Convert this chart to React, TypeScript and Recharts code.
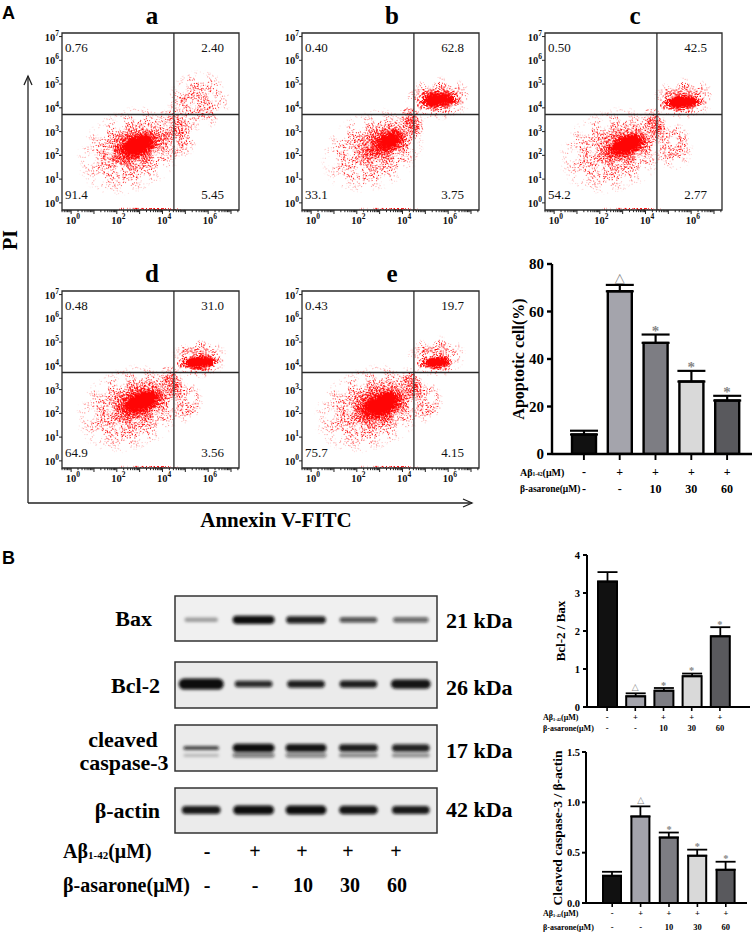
import React from 'react';
import {
  ScatterChart, Scatter, XAxis, YAxis, ReferenceArea, ReferenceLine,
  ComposedChart, Bar, Cell, ErrorBar, Line,
} from 'recharts';

const SERIF = "'Liberation Serif', 'Times New Roman', 'DejaVu Serif', serif";
const SANS = "'Liberation Sans', Arial, sans-serif";

// ---------------- Flow cytometry (decade units, log10) ----------------
const FLOW_X_DOMAIN: [number, number] = [-0.4, 7.35];
const FLOW_Y_DOMAIN: [number, number] = [-0.3, 7.15];
const FLOW_QUAD_X = 4.5;
const FLOW_QUAD_Y = 3.72;
const FLOW_DECADES = [0, 1, 2, 3, 4, 5, 6, 7];
const FLOW_X_LABELLED = [0, 2, 4, 6];

// quadrant percentages: upper-left, upper-right, lower-left, lower-right
const quadA = ['0.76', '2.40', '91.4', '5.45'];
const quadB = ['0.40', '62.8', '33.1', '3.75'];
const quadC = ['0.50', '42.5', '54.2', '2.77'];
const quadD = ['0.48', '31.0', '64.9', '3.56'];
const quadE = ['0.43', '19.7', '75.7', '4.15'];

// event clouds: centre (x,y), half extents (rx,ry) in decades, tilt (deg), density
type Cluster = { x: number; y: number; rx: number; ry: number; a: number; d: number };
const clustersA: Cluster[] = [
  { x: 2.6, y: 2.2, rx: 2.5, ry: 1.8, a: -25, d: 0.28 },
  { x: 2.8, y: 2.35, rx: 1.6, ry: 0.95, a: -22, d: 0.55 },
  { x: 2.9, y: 2.4, rx: 1.0, ry: 0.55, a: -20, d: 1.0 },
  { x: 4.6, y: 3.0, rx: 0.9, ry: 1.2, a: -20, d: 0.33 },
  { x: 5.6, y: 4.3, rx: 1.4, ry: 1.3, a: -30, d: 0.26 },
  { x: 3.4, y: -0.26, rx: 1.8, ry: 0.05, a: 0.5, d: 0.5 },
];
const clustersB: Cluster[] = [
  { x: 2.7, y: 2.2, rx: 2.4, ry: 1.7, a: -25, d: 0.27 },
  { x: 3.2, y: 2.5, rx: 1.5, ry: 0.9, a: -25, d: 0.5 },
  { x: 3.4, y: 2.6, rx: 0.9, ry: 0.5, a: -25, d: 0.85 },
  { x: 4.4, y: 3.4, rx: 0.5, ry: 0.8, a: -20, d: 0.45 },
  { x: 5.6, y: 4.4, rx: 1.5, ry: 0.95, a: -4, d: 0.3 },
  { x: 5.6, y: 4.35, rx: 1.15, ry: 0.5, a: -4, d: 0.75 },
  { x: 5.5, y: 4.35, rx: 0.85, ry: 0.33, a: -4, d: 1.0 },
  { x: 3.4, y: -0.26, rx: 1.6, ry: 0.05, a: 0.5, d: 0.45 },
];
const clustersC: Cluster[] = [
  { x: 2.6, y: 2.2, rx: 2.5, ry: 1.8, a: -20, d: 0.28 },
  { x: 3.1, y: 2.4, rx: 1.5, ry: 0.85, a: -20, d: 0.55 },
  { x: 3.2, y: 2.45, rx: 0.95, ry: 0.5, a: -20, d: 1.0 },
  { x: 4.4, y: 3.3, rx: 0.5, ry: 0.8, a: -20, d: 0.42 },
  { x: 5.2, y: 2.4, rx: 0.9, ry: 1.1, a: -10, d: 0.24 },
  { x: 5.7, y: 4.4, rx: 1.4, ry: 0.9, a: -4, d: 0.3 },
  { x: 5.6, y: 4.25, rx: 1.1, ry: 0.45, a: -4, d: 0.75 },
  { x: 5.55, y: 4.25, rx: 0.8, ry: 0.3, a: -4, d: 1.0 },
  { x: 3.4, y: -0.26, rx: 1.6, ry: 0.05, a: 0.5, d: 0.45 },
];
const clustersD: Cluster[] = [
  { x: 2.6, y: 2.2, rx: 2.5, ry: 1.8, a: -22, d: 0.3 },
  { x: 3.0, y: 2.45, rx: 1.6, ry: 0.9, a: -22, d: 0.6 },
  { x: 3.1, y: 2.5, rx: 1.0, ry: 0.5, a: -22, d: 1.0 },
  { x: 4.4, y: 3.3, rx: 0.5, ry: 0.8, a: -20, d: 0.42 },
  { x: 5.0, y: 2.5, rx: 0.8, ry: 1.0, a: -10, d: 0.24 },
  { x: 5.6, y: 4.3, rx: 1.3, ry: 0.85, a: -4, d: 0.3 },
  { x: 5.6, y: 4.15, rx: 1.05, ry: 0.42, a: -4, d: 0.75 },
  { x: 5.55, y: 4.15, rx: 0.75, ry: 0.28, a: -4, d: 1.0 },
  { x: 3.4, y: -0.26, rx: 1.6, ry: 0.05, a: 0.5, d: 0.45 },
];
const clustersE: Cluster[] = [
  { x: 2.6, y: 2.2, rx: 2.6, ry: 1.8, a: -22, d: 0.3 },
  { x: 3.0, y: 2.35, rx: 1.6, ry: 0.95, a: -22, d: 0.65 },
  { x: 3.1, y: 2.35, rx: 1.05, ry: 0.55, a: -22, d: 1.0 },
  { x: 4.4, y: 3.2, rx: 0.5, ry: 0.8, a: -20, d: 0.42 },
  { x: 5.0, y: 2.5, rx: 0.8, ry: 1.0, a: -10, d: 0.24 },
  { x: 5.5, y: 4.4, rx: 1.3, ry: 0.9, a: -4, d: 0.28 },
  { x: 5.5, y: 4.15, rx: 0.95, ry: 0.38, a: -4, d: 0.7 },
  { x: 5.5, y: 4.15, rx: 0.7, ry: 0.25, a: -4, d: 0.95 },
  { x: 3.4, y: -0.26, rx: 1.6, ry: 0.05, a: 0.5, d: 0.45 },
];

const FLOW_BOX = 177;
const FLOW_PANELS = [
  { title: 'a', left: 62, top: 33, quads: quadA, clusters: clustersA },
  { title: 'b', left: 302, top: 33, quads: quadB, clusters: clustersB },
  { title: 'c', left: 545, top: 33, quads: quadC, clusters: clustersC },
  { title: 'd', left: 62, top: 291, quads: quadD, clusters: clustersD },
  { title: 'e', left: 302, top: 291, quads: quadE, clusters: clustersE },
];

// ---------------- Bar charts ----------------
const GROUPS = ['ctrl', 'ab', 'ab10', 'ab30', 'ab60'];
const AB_ROW = ['-', '+', '+', '+', '+'];
const ASA_ROW = ['-', '-', '10', '30', '60'];
const MARKS = ['', '△', '*', '*', '*'];
const BAR_COLORS = ['#111111', '#a4a4ac', '#7d7d83', '#d9d9d9', '#59595d'];

const apoptoticMean = [8.2, 68.5, 46.8, 30.5, 22.5];
const apoptoticErr = [1.6, 2.7, 3.5, 4.5, 2.0];
const apoptoticTicks = [0, 20, 40, 60, 80];

const bclBaxMean = [3.3, 0.28, 0.43, 0.81, 1.86];
const bclBaxErr = [0.25, 0.08, 0.07, 0.07, 0.24];
const bclBaxTicks = [0, 1, 2, 3, 4];

const caspMean = [0.27, 0.86, 0.65, 0.47, 0.33];
const caspErr = [0.04, 0.1, 0.05, 0.06, 0.08];
const caspTicks = [0, 0.5, 1.0, 1.5];

// ---------------- Western blots (relative band strength per lane) ----------------
const LANES = [1, 2, 3, 4, 5];
const baxBand = [0.35, 1.0, 0.92, 0.72, 0.62];
const baxThick = [0.05, 0.09, 0.08, 0.06, 0.06];
const baxHalf = [0.32, 0.4, 0.38, 0.36, 0.34];
const bcl2Band = [1.0, 0.88, 0.93, 0.93, 0.97];
const bcl2Thick = [0.12, 0.07, 0.08, 0.08, 0.1];
const bcl2Half = [0.43, 0.36, 0.36, 0.36, 0.38];
const caspBand = [0.85, 1.0, 0.97, 0.93, 0.9];
const caspThick = [0.04, 0.09, 0.085, 0.08, 0.08];
const caspHalf = [0.34, 0.4, 0.39, 0.37, 0.36];
const caspLower = [0.22, 0.55, 0.5, 0.45, 0.42];
const caspLowerThick = [0.035, 0.045, 0.045, 0.04, 0.04];
const actinBand = [0.95, 1.0, 1.0, 0.97, 0.95];
const actinThick = [0.09, 0.1, 0.1, 0.095, 0.09];
const actinHalf = [0.37, 0.39, 0.39, 0.37, 0.36];

const BLOT_NAMES = ['Bax', 'Bcl-2', 'cleaved caspase-3', 'β-actin'];
const BLOT_KDA = ['21 kDa', '26 kDa', '17 kDa', '42 kDa'];
const BLOT_AB_ROW = ['-', '+', '+', '+', '+'];
const BLOT_ASA_ROW = ['-', '-', '10', '30', '60'];

// ======================================================================

const ClusterShape = (p: any) => {
  const { x, y, width, height, clipPath, angle, density } = p;
  if (![x, y, width, height].every((v: any) => Number.isFinite(v))) return <g />;
  const cx = x + width / 2;
  const cy = y + height / 2;
  return (
    <g clipPath={clipPath}>
      <ellipse
        cx={cx}
        cy={cy}
        rx={Math.abs(width) / 2}
        ry={Math.abs(height) / 2}
        fill="url(#flowGrad)"
        fillOpacity={density}
        filter="url(#speckle)"
        transform={`rotate(${angle} ${cx} ${cy})`}
      />
    </g>
  );
};

const FLOW_X_TICKS: number[] = (() => {
  const out: number[] = [];
  for (let d = -1; d <= 7; d++) {
    for (let k = 1; k <= 9; k++) {
      const v = d + Math.log10(k);
      if (v >= FLOW_X_DOMAIN[0] && v <= FLOW_X_DOMAIN[1]) out.push(Number(v.toFixed(4)));
    }
  }
  return out;
})();

const FlowXTick = (props: any) => {
  const { x, y, payload } = props;
  const v = payload.value;
  const major = Math.abs(v - Math.round(v)) < 1e-6;
  const labelled = major && FLOW_X_LABELLED.includes(Math.round(v));
  return (
    <g>
      <line x1={x} x2={x} y1={y} y2={y + (major ? 4 : 2.2)} stroke="#222" strokeWidth={1} />
      {labelled && (
        <text x={x - 5.5} y={y + 14} fontFamily={SERIF} fontWeight="bold" fontSize={10.5} fill="#111">
          10<tspan dy={-5} fontSize={7.5}>{Math.round(v)}</tspan>
        </text>
      )}
    </g>
  );
};

const FlowYTick = (props: any) => {
  const { x, y, payload } = props;
  const v = Math.round(payload.value);
  return (
    <g>
      <line x1={x} x2={x - 3} y1={y} y2={y} stroke="#222" strokeWidth={1} />
      <text x={x - 3} y={y + 4} textAnchor="end" fontFamily={SERIF} fontWeight="bold" fontSize={10.5} fill="#111">
        10<tspan dy={-5} fontSize={7.5}>{v}</tspan>
      </text>
    </g>
  );
};

function FlowPanel({ left, top, clusters }: { left: number; top: number; clusters: Cluster[] }) {
  return (
    <div style={{ position: 'absolute', left: left - 30, top: top - 10 }}>
      <ScatterChart width={FLOW_BOX + 40} height={FLOW_BOX + 30} margin={{ top: 10, right: 10, bottom: 0, left: 0 }}>
        <XAxis
          type="number" dataKey="x" domain={FLOW_X_DOMAIN} ticks={FLOW_X_TICKS} interval={0}
          allowDataOverflow tick={<FlowXTick />} tickLine={false} axisLine={false}
          tickSize={0} tickMargin={0} height={20}
        />
        <YAxis
          type="number" dataKey="y" domain={FLOW_Y_DOMAIN} ticks={FLOW_DECADES} interval={0}
          allowDataOverflow tick={<FlowYTick />} tickLine={false} axisLine={false}
          tickSize={0} tickMargin={0} width={30}
        />
        <Scatter data={[]} isAnimationActive={false} />
        {clusters.map((c, i) => (
          <ReferenceArea
            key={i}
            x1={c.x - c.rx} x2={c.x + c.rx} y1={c.y - c.ry} y2={c.y + c.ry}
            ifOverflow="hidden"
            shape={(p: any) => <ClusterShape {...p} angle={c.a} density={c.d} />}
          />
        ))}
        <ReferenceLine x={FLOW_QUAD_X} stroke="#2a2a2a" strokeWidth={1.3} />
        <ReferenceLine y={FLOW_QUAD_Y} stroke="#2a2a2a" strokeWidth={1.3} />
        <ReferenceArea
          x1={FLOW_X_DOMAIN[0]} x2={FLOW_X_DOMAIN[1]} y1={FLOW_Y_DOMAIN[0]} y2={FLOW_Y_DOMAIN[1]}
          fill="none" fillOpacity={0} stroke="#2a2a2a" strokeWidth={1.3} ifOverflow="visible"
        />
      </ScatterChart>
    </div>
  );
}

// ---------------- Bar chart ----------------
type StatCfg = {
  left: number; top: number; width: number; height: number;
  yWidth: number; xHeight: number; marginTop: number; marginRight: number;
  domain: [number, number]; ticks: number[]; fmt: (v: number) => string;
  padL: number; padR: number; barSize: number; cap: number;
  tickFont: number; tickSize: number; tickMargin: number;
  rowFont: number; r1: number; r2: number; tickLen: number;
  markFont: number; strokeW: number;
};

function StatChart({ cfg, mean, err }: { cfg: StatCfg; mean: number[]; err: number[] }) {
  const data = GROUPS.map((g, i) => ({
    g, v: mean[i], e: [0, err[i]], mk: mean[i] + err[i], mark: MARKS[i],
  }));
  const RowTick = (props: any) => {
    const { x, y, payload } = props;
    const i = GROUPS.indexOf(payload.value);
    return (
      <g>
        <line x1={x} x2={x} y1={y} y2={y + cfg.tickLen} stroke="#000" strokeWidth={cfg.strokeW * 0.8} />
        <text x={x} y={y + cfg.r1} textAnchor="middle" dominantBaseline="central" fontFamily={SERIF} fontWeight="bold" fontSize={cfg.rowFont} fill="#000">{AB_ROW[i]}</text>
        <text x={x} y={y + cfg.r2} textAnchor="middle" dominantBaseline="central" fontFamily={SERIF} fontWeight="bold" fontSize={cfg.rowFont} fill="#000">{ASA_ROW[i]}</text>
      </g>
    );
  };
  const MarkDot = (props: any) => {
    const { cx, cy, payload, index } = props;
    if (!payload || !payload.mark || !Number.isFinite(cx)) return <g key={`m${index}`} />;
    const tri = payload.mark === '△';
    return (
      <text
        key={`m${index}`}
        x={cx}
        y={tri ? cy - 3 : cy + cfg.markFont * 0.08}
        textAnchor="middle"
        fontFamily={tri ? "'DejaVu Sans', sans-serif" : SERIF}
        fontSize={tri ? cfg.markFont * 1.0 : cfg.markFont * 1.15}
        fontWeight={tri ? 'normal' : 'bold'}
        fill="#858585"
      >
        {payload.mark}
      </text>
    );
  };
  return (
    <div style={{ position: 'absolute', left: cfg.left, top: cfg.top }}>
      <ComposedChart
        width={cfg.width} height={cfg.height} data={data}
        margin={{ top: cfg.marginTop, right: cfg.marginRight, bottom: 0, left: 0 }}
      >
        <XAxis
          dataKey="g" type="category" interval={0} padding={{ left: cfg.padL, right: cfg.padR }}
          axisLine={{ stroke: '#000', strokeWidth: cfg.strokeW }} tickLine={false}
          tickSize={0} tickMargin={0} tick={<RowTick />} height={cfg.xHeight}
        />
        <YAxis
          type="number" domain={cfg.domain} ticks={cfg.ticks} interval={0} allowDataOverflow
          tickFormatter={cfg.fmt} width={cfg.yWidth}
          axisLine={{ stroke: '#000', strokeWidth: cfg.strokeW }}
          tickLine={{ stroke: '#000', strokeWidth: cfg.strokeW }} tickSize={cfg.tickSize} tickMargin={cfg.tickMargin}
          tick={{ fontFamily: SERIF, fontWeight: 'bold', fontSize: cfg.tickFont, fill: '#000' }}
        />
        <Bar dataKey="v" barSize={cfg.barSize} stroke="#000" strokeWidth={cfg.strokeW} isAnimationActive={false}>
          {data.map((d, i) => <Cell key={d.g} fill={BAR_COLORS[i]} />)}
          <ErrorBar dataKey="e" width={cfg.cap} stroke="#000" strokeWidth={cfg.strokeW * 0.9} direction="y" />
        </Bar>
        <Line dataKey="mk" stroke="none" dot={MarkDot} activeDot={false} isAnimationActive={false} legendType="none" />
      </ComposedChart>
    </div>
  );
}

const APOP_CFG: StatCfg = {
  left: 490, top: 254, width: 264, height: 250, yWidth: 62, xHeight: 50, marginTop: 10, marginRight: 2,
  domain: [0, 80], ticks: apoptoticTicks, fmt: (v) => String(v),
  padL: 14, padR: 7, barSize: 24, cap: 14, tickFont: 15, tickSize: 5, tickMargin: 3,
  rowFont: 12, r1: 18, r2: 35, tickLen: 6, markFont: 13, strokeW: 2.4,
};
const BCL_CFG: StatCfg = {
  left: 530, top: 545, width: 224, height: 192, yWidth: 57, xHeight: 30, marginTop: 10, marginRight: 4,
  domain: [0, 4], ticks: bclBaxTicks, fmt: (v) => String(v),
  padL: 6, padR: 16, barSize: 19, cap: 10, tickFont: 10.5, tickSize: 4, tickMargin: 3,
  rowFont: 8.5, r1: 10, r2: 21, tickLen: 4, markFont: 9, strokeW: 2,
};
const CASP_CFG: StatCfg = {
  left: 530, top: 742, width: 221, height: 191, yWidth: 56, xHeight: 30, marginTop: 10, marginRight: 4,
  domain: [0, 1.5], ticks: caspTicks, fmt: (v) => v.toFixed(1),
  padL: 12, padR: 7, barSize: 18, cap: 10, tickFont: 10.5, tickSize: 4, tickMargin: 2,
  rowFont: 8.5, r1: 10, r2: 24, tickLen: 4, markFont: 9, strokeW: 2,
};

// ---------------- Blots ----------------
type Band = { lane: number; pos: number; k: number; half: number; thick: number };

const BandShape = (p: any) => {
  const { x, y, width, height, k } = p;
  if (![x, y, width, height].every((v: any) => Number.isFinite(v))) return <g />;
  const h = Math.abs(height);
  return (
    <rect
      x={x} y={y} width={Math.abs(width)} height={h} rx={h / 2}
      fill="#0d0d0d" fillOpacity={k} filter="url(#bandBlur)"
    />
  );
};

function Blot({ top, height, bands, bg }: { top: number; height: number; bands: Band[]; bg: string }) {
  return (
    <div style={{ position: 'absolute', left: 172, top: top - 3 }}>
      <ScatterChart width={268} height={height + 6} margin={{ top: 3, right: 3, bottom: 3, left: 3 }}>
        <XAxis type="number" dataKey="x" domain={[0.5, 5.5]} hide allowDataOverflow />
        <YAxis type="number" dataKey="y" domain={[0, 1]} hide allowDataOverflow />
        <Scatter data={[]} isAnimationActive={false} />
        <ReferenceArea x1={0.5} x2={5.5} y1={0} y2={1} fill={bg} fillOpacity={1} stroke="#333" strokeWidth={1.5} ifOverflow="visible" />
        {bands.map((b, i) => (
          <ReferenceArea
            key={i}
            x1={b.lane - b.half} x2={b.lane + b.half} y1={b.pos - b.thick} y2={b.pos + b.thick}
            ifOverflow="visible"
            shape={(p: any) => <BandShape {...p} k={b.k} />}
          />
        ))}
      </ScatterChart>
    </div>
  );
}

const mk = (pos: number, k: number[], half: number[], thick: number[]): Band[] =>
  LANES.map((lane, i) => ({ lane, pos, k: k[i], half: half[i], thick: thick[i] }));

const BLOTS = [
  { top: 596, height: 45, bg: '#f0f0f0', bands: mk(0.47, baxBand, baxHalf, baxThick) },
  { top: 662, height: 46, bg: '#ebebeb', bands: mk(0.52, bcl2Band, bcl2Half, bcl2Thick) },
  {
    top: 725, height: 46, bg: '#ebebeb',
    bands: [...mk(0.5, caspBand, caspHalf, caspThick), ...mk(0.34, caspLower, caspHalf, caspLowerThick)],
  },
  { top: 788, height: 45, bg: '#ebebeb', bands: mk(0.51, actinBand, actinHalf, actinThick) },
];

// ---------------- text helpers ----------------
const T = (p: any) => <text fontFamily={SERIF} fontWeight="bold" fill="#000" {...p} />;

const AbLabel = ({ x, y, size }: { x: number; y: number; size: number }) => (
  <text x={x} y={y} fontFamily={SERIF} fontWeight="bold" fontSize={size} fill="#000" dominantBaseline="central">
    Aβ<tspan fontSize={size * 0.55} dy={size * 0.22}>1-42</tspan>
    <tspan dy={-size * 0.22}>(μM)</tspan>
  </text>
);

export default function App() {
  return (
    <div style={{ position: 'absolute', left: 0, top: 0, width: 754, height: 937, background: '#fff', overflow: 'hidden' }}>
      <svg width={0} height={0} style={{ position: 'absolute' }}>
        <defs>
          <radialGradient id="flowGrad">
            <stop offset="0" stopColor="#ff0000" stopOpacity={1} />
            <stop offset="0.45" stopColor="#ff0000" stopOpacity={0.9} />
            <stop offset="0.8" stopColor="#ff0000" stopOpacity={0.35} />
            <stop offset="1" stopColor="#ff0000" stopOpacity={0} />
          </radialGradient>
          <filter id="speckle" x="-5%" y="-5%" width="110%" height="110%" colorInterpolationFilters="sRGB">
            <feTurbulence type="fractalNoise" baseFrequency="0.95" numOctaves={1} seed={4} result="noise" />
            <feColorMatrix in="noise" type="matrix" values="0 0 0 0 0  0 0 0 0 0  0 0 0 0 0  3 0 0 0 -1" result="na" />
            <feComposite in="SourceAlpha" in2="na" operator="arithmetic" k1={0} k2={6} k3={4} k4={-4} result="th" />
            <feColorMatrix in="th" type="matrix" values="0 0 0 0 1  0 0 0 0 0.02  0 0 0 0 0.02  0 0 0 1 0" />
          </filter>
          <filter id="bandBlur" x="-20%" y="-150%" width="140%" height="400%">
            <feGaussianBlur stdDeviation="1.4" />
          </filter>
        </defs>
      </svg>

      {FLOW_PANELS.map((p) => (
        <FlowPanel key={p.title} left={p.left} top={p.top} clusters={p.clusters} />
      ))}

      <StatChart cfg={APOP_CFG} mean={apoptoticMean} err={apoptoticErr} />
      <StatChart cfg={BCL_CFG} mean={bclBaxMean} err={bclBaxErr} />
      <StatChart cfg={CASP_CFG} mean={caspMean} err={caspErr} />

      {BLOTS.map((b, i) => (
        <Blot key={i} top={b.top} height={b.height} bands={b.bands} bg={b.bg} />
      ))}

      <svg width={754} height={937} style={{ position: 'absolute', left: 0, top: 0, pointerEvents: 'none' }}>
        {/* panel letters */}
        <text x={2} y={19} fontFamily={SANS} fontWeight="bold" fontSize={18} fill="#000">A</text>
        <text x={2} y={564} fontFamily={SANS} fontWeight="bold" fontSize={18} fill="#000">B</text>

        {/* flow titles and quadrant values */}
        {FLOW_PANELS.map((p) => (
          <g key={p.title}>
            <T x={p.left + 90} y={p.top - 9} fontSize={25} textAnchor="middle">{p.title}</T>
            <text x={p.left + 3} y={p.top + 19} fontFamily={SERIF} fontSize={13} fill="#111">{p.quads[0]}</text>
            <text x={p.left + FLOW_BOX - 15} y={p.top + 19} fontFamily={SERIF} fontSize={13} fill="#111" textAnchor="end">{p.quads[1]}</text>
            <text x={p.left + 3} y={p.top + 166} fontFamily={SERIF} fontSize={13} fill="#111">{p.quads[2]}</text>
            <text x={p.left + FLOW_BOX - 15} y={p.top + 166} fontFamily={SERIF} fontSize={13} fill="#111" textAnchor="end">{p.quads[3]}</text>
          </g>
        ))}

        {/* big axes */}
        <line x1={28} y1={503} x2={28} y2={76} stroke="#222" strokeWidth={1.3} />
        <polyline points="24,85 28,76 32,85" fill="none" stroke="#222" strokeWidth={1.3} />
        <line x1={28} y1={503} x2={472} y2={503} stroke="#222" strokeWidth={1.3} />
        <polyline points="463,499 472,503 463,507" fill="none" stroke="#222" strokeWidth={1.3} />
        <T x={10} y={240} fontSize={20} textAnchor="middle" dominantBaseline="central" transform="rotate(-90 10 240)">PI</T>
        <T x={276} y={520} fontSize={21} textAnchor="middle" dominantBaseline="central">Annexin V-FITC</T>

        {/* bar chart axis titles and row labels */}
        <T x={518} y={359} fontSize={16} textAnchor="middle" dominantBaseline="central" transform="rotate(-90 518 359)">Apoptotic cell(%)</T>
        <AbLabel x={520} y={472} size={10} />
        <T x={520} y={489} fontSize={9.5} dominantBaseline="central">β-asarone(μM)</T>

        <T x={560} y={631} fontSize={13} textAnchor="middle" dominantBaseline="central" transform="rotate(-90 560 631)">Bcl-2 / Bax</T>
        <AbLabel x={543} y={717} size={8} />
        <T x={543} y={728} fontSize={8} dominantBaseline="central">β-asarone(μM)</T>

        <T x={557} y={828} fontSize={13.5} textAnchor="middle" dominantBaseline="central" transform="rotate(-90 557 828)">Cleaved caspase-3 / β-actin</T>
        <AbLabel x={543} y={913} size={8} />
        <T x={543} y={927} fontSize={8} dominantBaseline="central">β-asarone(μM)</T>

        {/* blot labels */}
        <T x={152} y={618} fontSize={22} textAnchor="end" dominantBaseline="central">{BLOT_NAMES[0]}</T>
        <T x={160} y={685} fontSize={22} textAnchor="end" dominantBaseline="central">{BLOT_NAMES[1]}</T>
        <T x={123} y={739} fontSize={22} textAnchor="middle" dominantBaseline="central">cleaved</T>
        <T x={124} y={762} fontSize={22} textAnchor="middle" dominantBaseline="central">caspase-3</T>
        <T x={160} y={810} fontSize={22} textAnchor="end" dominantBaseline="central">{BLOT_NAMES[3]}</T>
        {BLOT_KDA.map((k, i) => (
          <T key={k} x={446} y={[620, 687, 750, 809][i]} fontSize={22} dominantBaseline="central">{k}</T>
        ))}
        <AbLabel x={63} y={851} size={20} />
        <T x={63} y={885} fontSize={20} dominantBaseline="central">β-asarone(μM)</T>
        {BLOT_AB_ROW.map((s, i) => (
          <T key={`ab${i}`} x={[207, 255, 302, 348, 396][i]} y={851} fontSize={20} textAnchor="middle" dominantBaseline="central">{s}</T>
        ))}
        {BLOT_ASA_ROW.map((s, i) => (
          <T key={`as${i}`} x={[207, 255, 303, 350, 397][i]} y={885} fontSize={20} textAnchor="middle" dominantBaseline="central">{s}</T>
        ))}
      </svg>
    </div>
  );
}
